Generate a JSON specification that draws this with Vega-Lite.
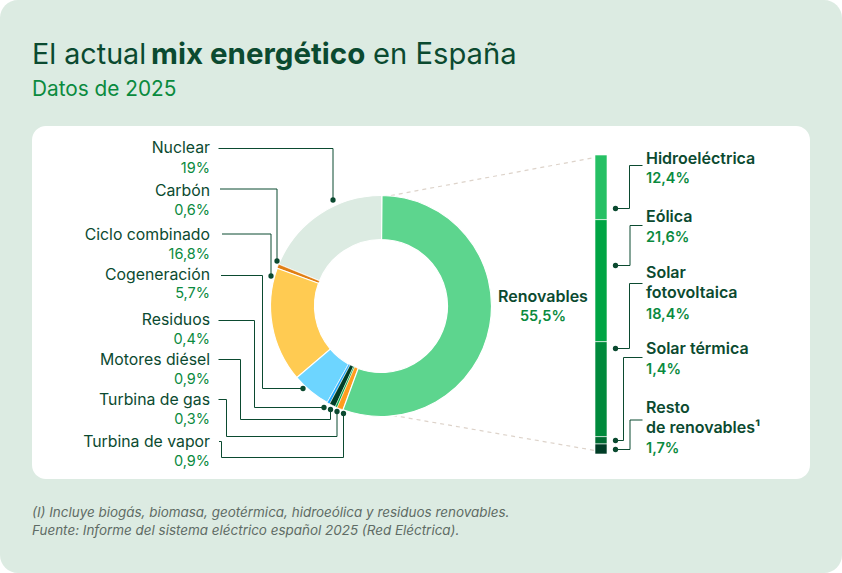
{
  "$schema": "https://vega.github.io/schema/vega-lite/v6.json",
  "width": 842,
  "height": 573,
  "autosize": {"type": "fit", "contains": "padding"},
  "padding": 0,
  "background": "#ffffff",
  "view": {"stroke": null},
  "config": {"text": {"font": "Inter"}},
  "datasets": {
    "mix": [
      {"tecnologia": "Nuclear", "valor": 19, "etiqueta": "19%", "orden": 1},
      {"tecnologia": "Carbón", "valor": 0.6, "etiqueta": "0,6%", "orden": 2},
      {"tecnologia": "Ciclo combinado", "valor": 16.8, "etiqueta": "16,8%", "orden": 3},
      {"tecnologia": "Cogeneración", "valor": 5.7, "etiqueta": "5,7%", "orden": 4},
      {"tecnologia": "Residuos", "valor": 0.4, "etiqueta": "0,4%", "orden": 5},
      {"tecnologia": "Motores diésel", "valor": 0.9, "etiqueta": "0,9%", "orden": 6},
      {"tecnologia": "Turbina de gas", "valor": 0.3, "etiqueta": "0,3%", "orden": 7},
      {"tecnologia": "Turbina de vapor", "valor": 0.9, "etiqueta": "0,9%", "orden": 8},
      {"tecnologia": "Renovables", "valor": 55.5, "etiqueta": "55,5%", "orden": 9}
    ],
    "renovables": [
      {"tecnologia": "Hidroeléctrica", "valor": 12.4, "tramo": 12.0, "etiqueta": "12,4%", "orden": 1},
      {"tecnologia": "Eólica", "valor": 21.6, "tramo": 22.65, "etiqueta": "21,6%", "orden": 2},
      {"tecnologia": "Solar\nfotovoltaica", "valor": 18.4, "tramo": 17.63, "etiqueta": "18,4%", "orden": 3},
      {"tecnologia": "Solar térmica", "valor": 1.4, "tramo": 1.36, "etiqueta": "1,4%", "orden": 4},
      {"tecnologia": "Resto\nde renovables¹", "valor": 1.7, "tramo": 1.86, "etiqueta": "1,7%", "orden": 5}
    ],
    "guias": [
      {"guia": "Nuclear", "paso": 1, "gx": 333, "gy": 200},
      {"guia": "Nuclear", "paso": 2, "gx": 333, "gy": 148.5},
      {"guia": "Nuclear", "paso": 3, "gx": 218.5, "gy": 148.5},
      {"guia": "Carbón", "paso": 1, "gx": 277, "gy": 261},
      {"guia": "Carbón", "paso": 2, "gx": 277, "gy": 189},
      {"guia": "Carbón", "paso": 3, "gx": 220, "gy": 189},
      {"guia": "Ciclo combinado", "paso": 1, "gx": 271, "gy": 276},
      {"guia": "Ciclo combinado", "paso": 2, "gx": 271, "gy": 234},
      {"guia": "Ciclo combinado", "paso": 3, "gx": 222, "gy": 234},
      {"guia": "Cogeneración", "paso": 1, "gx": 303, "gy": 388.5},
      {"guia": "Cogeneración", "paso": 2, "gx": 262.5, "gy": 388.5},
      {"guia": "Cogeneración", "paso": 3, "gx": 262.5, "gy": 275.5},
      {"guia": "Cogeneración", "paso": 4, "gx": 221, "gy": 275.5},
      {"guia": "Residuos", "paso": 1, "gx": 324, "gy": 407.5},
      {"guia": "Residuos", "paso": 2, "gx": 254.5, "gy": 407.5},
      {"guia": "Residuos", "paso": 3, "gx": 254.5, "gy": 320.5},
      {"guia": "Residuos", "paso": 4, "gx": 218.5, "gy": 320.5},
      {"guia": "Motores diésel", "paso": 1, "gx": 330.5, "gy": 409.5},
      {"guia": "Motores diésel", "paso": 2, "gx": 330.5, "gy": 419.5},
      {"guia": "Motores diésel", "paso": 3, "gx": 240.5, "gy": 419.5},
      {"guia": "Motores diésel", "paso": 4, "gx": 240.5, "gy": 359.5},
      {"guia": "Motores diésel", "paso": 5, "gx": 218.5, "gy": 359.5},
      {"guia": "Turbina de gas", "paso": 1, "gx": 337, "gy": 411.5},
      {"guia": "Turbina de gas", "paso": 2, "gx": 337, "gy": 436.5},
      {"guia": "Turbina de gas", "paso": 3, "gx": 226.5, "gy": 436.5},
      {"guia": "Turbina de gas", "paso": 4, "gx": 226.5, "gy": 399.5},
      {"guia": "Turbina de gas", "paso": 5, "gx": 218.5, "gy": 399.5},
      {"guia": "Turbina de vapor", "paso": 1, "gx": 343.5, "gy": 413.5},
      {"guia": "Turbina de vapor", "paso": 2, "gx": 343.5, "gy": 457.5},
      {"guia": "Turbina de vapor", "paso": 3, "gx": 221.5, "gy": 457.5},
      {"guia": "Turbina de vapor", "paso": 4, "gx": 221.5, "gy": 441.5},
      {"guia": "Turbina de vapor", "paso": 5, "gx": 219, "gy": 441.5},
      {"guia": "Hidroeléctrica", "paso": 1, "gx": 615.5, "gy": 208.5},
      {"guia": "Hidroeléctrica", "paso": 2, "gx": 629.5, "gy": 208.5},
      {"guia": "Hidroeléctrica", "paso": 3, "gx": 629.5, "gy": 165.5},
      {"guia": "Hidroeléctrica", "paso": 4, "gx": 642.5, "gy": 165.5},
      {"guia": "Eólica", "paso": 1, "gx": 615.5, "gy": 265.5},
      {"guia": "Eólica", "paso": 2, "gx": 630, "gy": 265.5},
      {"guia": "Eólica", "paso": 3, "gx": 630, "gy": 225.5},
      {"guia": "Eólica", "paso": 4, "gx": 642.5, "gy": 225.5},
      {"guia": "Solar fotovoltaica", "paso": 1, "gx": 615.5, "gy": 348.5},
      {"guia": "Solar fotovoltaica", "paso": 2, "gx": 629.5, "gy": 348.5},
      {"guia": "Solar fotovoltaica", "paso": 3, "gx": 629.5, "gy": 283.5},
      {"guia": "Solar fotovoltaica", "paso": 4, "gx": 642.5, "gy": 283.5},
      {"guia": "Solar térmica", "paso": 1, "gx": 615.5, "gy": 440.5},
      {"guia": "Solar térmica", "paso": 2, "gx": 623.5, "gy": 440.5},
      {"guia": "Solar térmica", "paso": 3, "gx": 623.5, "gy": 357.5},
      {"guia": "Solar térmica", "paso": 4, "gx": 642.5, "gy": 357.5},
      {"guia": "Resto de renovables", "paso": 1, "gx": 615.5, "gy": 449.5},
      {"guia": "Resto de renovables", "paso": 2, "gx": 630, "gy": 449.5},
      {"guia": "Resto de renovables", "paso": 3, "gx": 630, "gy": 420},
      {"guia": "Resto de renovables", "paso": 4, "gx": 642.5, "gy": 420}
    ]
  },
  "resolve": {"scale": {"x": "independent", "y": "independent", "color": "independent", "theta": "independent"}},
  "layer": [
    {
      "data": {"values": [{"bloque": "fondo"}]},
      "mark": {"type": "rect", "color": "#dcebe2", "cornerRadius": 18},
      "encoding": {
        "x": {"datum": 0, "type": "quantitative", "axis": null, "scale": {"domain": [0, 842], "range": [0, 842]}},
        "x2": {"datum": 842},
        "y": {"datum": 0, "type": "quantitative", "axis": null, "scale": {"domain": [0, 573], "range": [0, 573]}},
        "y2": {"datum": 573}
      }
    },
    {
      "data": {"values": [{"bloque": "panel"}]},
      "mark": {"type": "rect", "color": "#ffffff", "cornerRadius": 14},
      "encoding": {
        "x": {"datum": 32, "type": "quantitative", "axis": null, "scale": {"domain": [0, 842], "range": [0, 842]}},
        "x2": {"datum": 810},
        "y": {"datum": 126, "type": "quantitative", "axis": null, "scale": {"domain": [0, 573], "range": [0, 573]}},
        "y2": {"datum": 479}
      }
    },
    {
      "data": {"values": [{"texto": "El actual"}]},
      "mark": {"type": "text", "align": "left", "baseline": "alphabetic", "fontSize": 28.7, "color": "#0b4a30"},
      "encoding": {
        "text": {"field": "texto"},
        "x": {"datum": 32, "type": "quantitative", "axis": null, "scale": {"domain": [0, 842], "range": [0, 842]}},
        "y": {"datum": 64, "type": "quantitative", "axis": null, "scale": {"domain": [0, 573], "range": [0, 573]}}
      }
    },
    {
      "data": {"values": [{"texto": "mix energético"}]},
      "mark": {"type": "text", "align": "left", "baseline": "alphabetic", "fontSize": 29.5, "fontWeight": 700, "color": "#0b4a30"},
      "encoding": {
        "text": {"field": "texto"},
        "x": {"datum": 151, "type": "quantitative", "axis": null, "scale": {"domain": [0, 842], "range": [0, 842]}},
        "y": {"datum": 64, "type": "quantitative", "axis": null, "scale": {"domain": [0, 573], "range": [0, 573]}}
      }
    },
    {
      "data": {"values": [{"texto": "en España"}]},
      "mark": {"type": "text", "align": "left", "baseline": "alphabetic", "fontSize": 29.2, "color": "#0b4a30"},
      "encoding": {
        "text": {"field": "texto"},
        "x": {"datum": 373, "type": "quantitative", "axis": null, "scale": {"domain": [0, 842], "range": [0, 842]}},
        "y": {"datum": 64, "type": "quantitative", "axis": null, "scale": {"domain": [0, 573], "range": [0, 573]}}
      }
    },
    {
      "data": {"values": [{"texto": "Datos de 2025"}]},
      "mark": {"type": "text", "align": "left", "baseline": "alphabetic", "fontSize": 20.8, "color": "#0a8a3e"},
      "encoding": {
        "text": {"field": "texto"},
        "x": {"datum": 32, "type": "quantitative", "axis": null, "scale": {"domain": [0, 842], "range": [0, 842]}},
        "y": {"datum": 96, "type": "quantitative", "axis": null, "scale": {"domain": [0, 573], "range": [0, 573]}}
      }
    },
    {
      "data": {"values": [
        {"texto": "(I) Incluye biogás, biomasa, geotérmica, hidroeólica y residuos renovables.", "orden": 1},
        {"texto": "Fuente: Informe del sistema eléctrico español 2025 (Red Eléctrica).", "orden": 2}
      ]},
      "mark": {"type": "text", "align": "left", "baseline": "middle", "fontSize": 13.45, "fontStyle": "italic", "color": "#5f6b65"},
      "encoding": {
        "text": {"field": "texto"},
        "x": {"datum": 32, "type": "quantitative", "axis": null, "scale": {"domain": [0, 842], "range": [0, 842]}},
        "y": {"field": "orden", "type": "quantitative", "axis": null, "scale": {"domain": [1, 2], "range": [513, 531], "zero": false, "nice": false}}
      }
    },
    {
      "data": {"values": [
        {"borde": "superior", "paso": 1, "gx": 383, "gy": 197},
        {"borde": "superior", "paso": 2, "gx": 595, "gy": 157.5},
        {"borde": "inferior", "paso": 1, "gx": 385, "gy": 414},
        {"borde": "inferior", "paso": 2, "gx": 595, "gy": 450.5}
      ]},
      "mark": {"type": "line", "color": "#ddd3ca", "strokeWidth": 1.2, "strokeDash": [4, 4]},
      "encoding": {
        "x": {"field": "gx", "type": "quantitative", "axis": null, "scale": {"domain": [0, 842], "range": [0, 842]}},
        "y": {"field": "gy", "type": "quantitative", "axis": null, "scale": {"domain": [0, 573], "range": [0, 573]}},
        "detail": {"field": "borde"},
        "order": {"field": "paso"}
      }
    },
    {
      "data": {"name": "mix"},
      "mark": {"type": "arc", "outerRadius": 110.5, "innerRadius": 66.5, "stroke": "#ffffff"},
      "encoding": {
        "theta": {"field": "valor", "type": "quantitative", "stack": true, "scale": {"range": [0.009, 6.292]}},
        "order": {"field": "orden", "sort": "descending"},
        "strokeWidth": {"condition": {"test": "datum.valor < 1", "value": 0.5}, "value": 1.2},
        "color": {
          "field": "tecnologia",
          "type": "nominal",
          "legend": null,
          "scale": {
            "domain": ["Renovables", "Turbina de vapor", "Turbina de gas", "Motores diésel", "Residuos", "Cogeneración", "Ciclo combinado", "Carbón", "Nuclear"],
            "range": ["#5dd58e", "#ff9d1e", "#00a544", "#003d26", "#1aa7ff", "#6dd5ff", "#ffcb52", "#e07f14", "#dcebe2"]
          }
        },
        "x": {"datum": 381, "type": "quantitative", "axis": null, "scale": {"domain": [0, 842], "range": [0, 842]}},
        "y": {"datum": 306, "type": "quantitative", "axis": null, "scale": {"domain": [0, 573], "range": [0, 573]}}
      }
    },
    {
      "data": {"name": "renovables"},
      "transform": [{"stack": "tramo", "sort": [{"field": "orden"}], "groupby": [], "as": ["t0", "t1"]}],
      "mark": {"type": "rect", "stroke": "#ffffff", "strokeWidth": 0.6},
      "encoding": {
        "x": {"datum": 595, "type": "quantitative", "axis": null, "scale": {"domain": [0, 842], "range": [0, 842]}},
        "x2": {"datum": 607},
        "y": {"field": "t0", "type": "quantitative", "axis": null, "scale": {"domain": [0, 55.5], "range": [155, 454], "zero": false, "nice": false}},
        "y2": {"field": "t1"},
        "color": {
          "field": "orden",
          "type": "ordinal",
          "legend": null,
          "scale": {"domain": [1, 2, 3, 4, 5], "range": ["#26c064", "#00a544", "#008a3c", "#006c32", "#003d26"]}
        }
      }
    },
    {
      "data": {"name": "guias"},
      "mark": {"type": "line", "color": "#0b4a30", "strokeWidth": 1, "interpolate": "linear"},
      "encoding": {
        "x": {"field": "gx", "type": "quantitative", "axis": null, "scale": {"domain": [0, 842], "range": [0, 842]}},
        "y": {"field": "gy", "type": "quantitative", "axis": null, "scale": {"domain": [0, 573], "range": [0, 573]}},
        "detail": {"field": "guia"},
        "order": {"field": "paso"}
      }
    },
    {
      "data": {"name": "guias"},
      "transform": [{"filter": "datum.paso == 1"}],
      "mark": {"type": "circle", "color": "#0b4a30", "size": 28, "opacity": 1},
      "encoding": {
        "x": {"field": "gx", "type": "quantitative", "axis": null, "scale": {"domain": [0, 842], "range": [0, 842]}},
        "y": {"field": "gy", "type": "quantitative", "axis": null, "scale": {"domain": [0, 573], "range": [0, 573]}}
      }
    },
    {
      "data": {"name": "mix"},
      "transform": [{"filter": "datum.orden < 9"}],
      "mark": {"type": "text", "align": "right", "baseline": "middle", "fontSize": 15.8, "color": "#0b4a30"},
      "encoding": {
        "text": {"field": "tecnologia"},
        "x": {"datum": 210, "type": "quantitative", "axis": null, "scale": {"domain": [0, 842], "range": [0, 842]}},
        "y": {"field": "orden", "type": "quantitative", "axis": null, "scale": {"domain": [1, 2, 3, 4, 5, 6, 7, 8], "range": [148, 191, 235, 275, 320, 360, 400, 442], "zero": false, "nice": false}}
      }
    },
    {
      "data": {"name": "mix"},
      "transform": [{"filter": "datum.orden < 9"}],
      "mark": {"type": "text", "align": "right", "baseline": "middle", "fontSize": 14.5, "color": "#0a8a3e"},
      "encoding": {
        "text": {"field": "etiqueta"},
        "x": {"datum": 210, "type": "quantitative", "axis": null, "scale": {"domain": [0, 842], "range": [0, 842]}},
        "y": {"field": "orden", "type": "quantitative", "axis": null, "scale": {"domain": [1, 2, 3, 4, 5, 6, 7, 8], "range": [169, 211, 255, 294, 340, 380, 420, 462], "zero": false, "nice": false}}
      }
    },
    {
      "data": {"name": "mix"},
      "transform": [{"filter": "datum.orden == 9"}],
      "mark": {"type": "text", "align": "center", "baseline": "middle", "fontSize": 16, "fontWeight": 600, "color": "#0b4a30"},
      "encoding": {
        "text": {"field": "tecnologia"},
        "x": {"datum": 543, "type": "quantitative", "axis": null, "scale": {"domain": [0, 842], "range": [0, 842]}},
        "y": {"datum": 297, "type": "quantitative", "axis": null, "scale": {"domain": [0, 573], "range": [0, 573]}}
      }
    },
    {
      "data": {"name": "mix"},
      "transform": [{"filter": "datum.orden == 9"}],
      "mark": {"type": "text", "align": "center", "baseline": "middle", "fontSize": 14.5, "fontWeight": 600, "color": "#0a8a3e"},
      "encoding": {
        "text": {"field": "etiqueta"},
        "x": {"datum": 543, "type": "quantitative", "axis": null, "scale": {"domain": [0, 842], "range": [0, 842]}},
        "y": {"datum": 317, "type": "quantitative", "axis": null, "scale": {"domain": [0, 573], "range": [0, 573]}}
      }
    },
    {
      "data": {"name": "renovables"},
      "mark": {"type": "text", "align": "left", "baseline": "top", "fontSize": 16, "fontWeight": 600, "color": "#0b4a30", "lineBreak": "\n", "lineHeight": 20},
      "encoding": {
        "text": {"field": "tecnologia"},
        "x": {"datum": 646, "type": "quantitative", "axis": null, "scale": {"domain": [0, 842], "range": [0, 842]}},
        "y": {"field": "orden", "type": "quantitative", "axis": null, "scale": {"domain": [1, 2, 3, 4, 5], "range": [151, 209, 265, 341, 400], "zero": false, "nice": false}}
      }
    },
    {
      "data": {"name": "renovables"},
      "mark": {"type": "text", "align": "left", "baseline": "middle", "fontSize": 14.5, "fontWeight": 600, "color": "#0a8a3e"},
      "encoding": {
        "text": {"field": "etiqueta"},
        "x": {"datum": 646, "type": "quantitative", "axis": null, "scale": {"domain": [0, 842], "range": [0, 842]}},
        "y": {"field": "orden", "type": "quantitative", "axis": null, "scale": {"domain": [1, 2, 3, 4, 5], "range": [179, 238, 315, 370, 449], "zero": false, "nice": false}}
      }
    }
  ]
}
